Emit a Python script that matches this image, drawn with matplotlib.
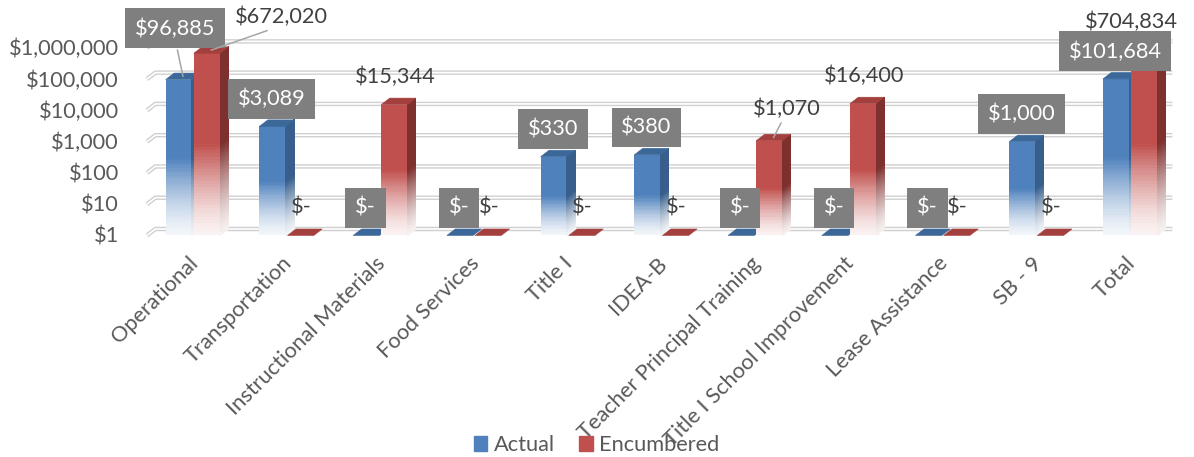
import numpy as np
import matplotlib
matplotlib.use("Agg")
import matplotlib.pyplot as plt
from matplotlib.colors import to_rgb
from matplotlib.patches import Polygon, Patch
from matplotlib.transforms import ScaledTranslation

categories = ["Operational", "Transportation", "Instructional Materials", "Food Services",
              "Title I", "IDEA-B", "Teacher Principal Training", "Title I School Improvement",
              "Lease Assistance", "SB - 9", "Total"]
actual = [96885, 3089, 0, 0, 330, 380, 0, 0, 0, 1000, 101684]
encumbered = [672020, 0, 15344, 0, 0, 0, 1070, 16400, 0, 0, 704834]
decades = [1, 10, 100, 1000, 10000, 100000, 1000000]

# front, top, side colours of each series
BLUE = ("#4F81BD", "#3B6799", "#385F8C")
RED = ("#C0504D", "#A3403D", "#7D302E")
TEXT = "#595959"
BOX = "#7F7F7F"
FS = 15.7

BAR_W = 0.28
DX = 0.09                       # 3d depth to the right (category units)
DEPTH = 10 ** (6.5 / 31.3)      # 3d depth upward, as a factor on the log axis
BASE = 1 / DEPTH
N_SEG = 60

plt.rcParams["font.family"] = ["Lato", "DejaVu Sans"]
plt.rcParams["font.size"] = FS


def fade(color, f):
    c = np.array(to_rgb(color))
    return tuple(1 - f * (1 - c))


def shade_at(t):
    # solid in the upper half, washing out to white at the floor
    f = min(1.0, t / 0.5)
    return 0.07 + 0.93 * f ** 1.4


def draw_bar(ax, x0, value, colors):
    front, top, side = colors
    x1 = x0 + BAR_W
    v = max(value, 1)
    top_front = v * BASE
    if value > 1:
        edges = np.logspace(np.log10(BASE), np.log10(top_front), N_SEG + 1)
        for k in range(N_SEG):
            s = shade_at((k + 0.5) / N_SEG)
            ax.bar(x0, edges[k + 1] - edges[k], bottom=edges[k], width=BAR_W,
                   align="edge", color=fade(front, s), lw=0, antialiased=False, zorder=3)
            ax.add_patch(Polygon([(x1, edges[k]), (x1, edges[k + 1]),
                                  (x1 + DX, edges[k + 1] * DEPTH), (x1 + DX, edges[k] * DEPTH)],
                                 closed=True, fc=fade(side, s), lw=0, antialiased=False,
                                 zorder=3))
    ax.add_patch(Polygon([(x0, top_front), (x1, top_front), (x1 + DX, v), (x0 + DX, v)],
                         closed=True, fc=top, ec=top, lw=0.4, zorder=3))


fig = plt.figure(figsize=(11.94, 4.57), dpi=100)
ax = fig.add_axes([146 / 1194, 215.5 / 457, 1031 / 1194, 209.5 / 457])
ax.set_yscale("log")
ax.set_xlim(-0.5, 10.5)
ax.set_ylim(10 ** -0.4, 10 ** 6.3)

# back wall gridlines, drawn as double lines with a short floor corner
for d in decades:
    xs = [-0.5 + 0.01, -0.5 + DX + 0.01, 10.45]
    ys = [d * BASE, d, d]
    ax.plot(xs, ys, color="#D0D0D0", lw=3.2, zorder=1, solid_capstyle="butt")
    ax.plot(xs, ys, color="white", lw=1.2, zorder=1, solid_capstyle="butt")

x = np.arange(len(categories))
for i in x:
    draw_bar(ax, i - 0.01 - BAR_W, actual[i], BLUE)
    draw_bar(ax, i + 0.01, encumbered[i], RED)


def money(v):
    return "$-" if v == 0 else "${:,.0f}".format(v)


# label offsets in pixels; the third item adds a leader line to the bar
shifts = {
    ("a", 0): (-8, 48, True),
    ("e", 0): (70, 33, True),
    ("e", 6): (13, 29, True),
    ("e", 10): (1, 24, False),
}
PT = 0.72

for key, values, sign in (("a", actual, -1), ("e", encumbered, 1)):
    for i in x:
        v = values[i]
        dx_px, dy_px, leader = shifts.get((key, i), (15 * sign, 21, False))
        if leader:
            xy = (i + sign * (0.01 + BAR_W / 2) + DX / 2, v * 0.78)
        else:
            xy = (i, max(v, 1))
        kw = dict(xy=xy, xytext=(dx_px * PT, dy_px * PT), textcoords="offset points",
                  ha="center", va="center", fontsize=FS, zorder=6, annotation_clip=False)
        if leader:
            kw["arrowprops"] = dict(arrowstyle="-", color="#A6A6A6", lw=1.1,
                                    shrinkA=1, shrinkB=0,
                                    relpos=(0.5, 0) if key == "a" else (0.45, 0))
        if key == "a":
            ax.annotate(money(v), color="white",
                        bbox=dict(boxstyle="square,pad=0.45", fc=BOX, ec="none"), **kw)
        else:
            ax.annotate(money(v), color="#404040", **kw)

ax.set_yticks(decades)
ax.set_yticklabels([money(d) for d in decades], color=TEXT)
ax.minorticks_off()
ax.tick_params(axis="y", length=0, pad=19.5)
for lab in ax.get_yticklabels():
    lab.set_transform(lab.get_transform() + ScaledTranslation(0, -6 / 100, fig.dpi_scale_trans))

ax.set_xticks(x)
ax.set_xticklabels(categories, rotation=45, ha="right", va="center",
                   rotation_mode="anchor", color=TEXT)
ax.tick_params(axis="x", length=0, pad=13.5)
for lab in ax.get_xticklabels():
    lab.set_transform(lab.get_transform() + ScaledTranslation(2 / 100, 0, fig.dpi_scale_trans))

for s in ax.spines.values():
    s.set_visible(False)

handles = [Patch(color=BLUE[0], label="Actual"), Patch(color=RED[0], label="Encumbered")]
leg = fig.legend(handles=handles, loc="center", bbox_to_anchor=(597 / 1194, 12 / 457),
                 ncol=2, frameon=False, handlelength=0.6, handleheight=0.7,
                 handletextpad=0.32, columnspacing=1.1, fontsize=FS)
for t in leg.get_texts():
    t.set_color(TEXT)

fig.savefig("out.png", dpi=100)
